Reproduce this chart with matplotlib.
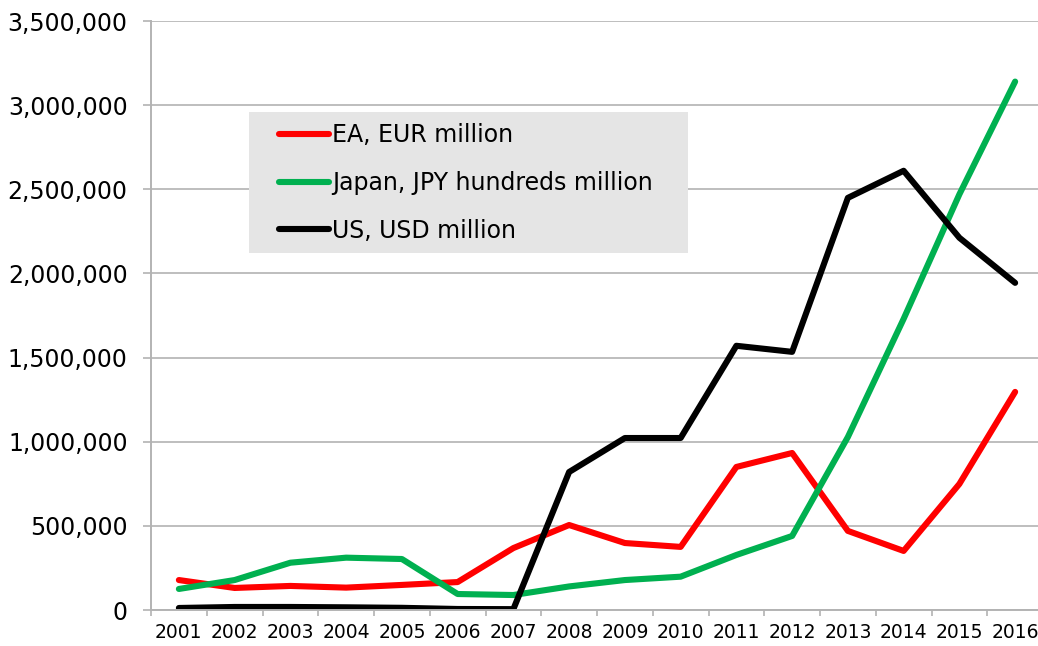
import matplotlib as mpl
mpl.use('agg')
import matplotlib.pyplot as plt
from matplotlib.patches import Rectangle
from matplotlib.ticker import FuncFormatter, FixedLocator

years = ['2001', '2002', '2003', '2004', '2005', '2006', '2007', '2008',
         '2009', '2010', '2011', '2012', '2013', '2014', '2015', '2016']

ea_eur = [178000, 131000, 143000, 133000, 149000, 166000, 368000, 505000,
          398000, 375000, 850000, 933000, 470000, 351000, 749000, 1296000]
japan_jpy = [125000, 178000, 281000, 311000, 303000, 95000, 89000, 140000,
             178000, 198000, 327000, 440000, 1028000, 1730000, 2470000, 3140000]
us_usd = [12000, 18000, 18000, 16000, 13000, 6000, 5000, 820000,
          1022000, 1022000, 1570000, 1534000, 2449000, 2610000, 2212000, 1944000]

grey = '#b3b3b3'
W, H = 1038, 646

fig = plt.figure(figsize=(W / 100, H / 100), dpi=100)
# axes extends a bit past the right edge, like the original
ax = fig.add_axes([151 / W, 1 - 610 / H, (1043 - 151) / W, (610 - 21) / H])

x = list(range(len(years)))
ax.plot(x, ea_eur, color='#ff0000', lw=4.4, label='EA, EUR million', solid_capstyle='round')
ax.plot(x, japan_jpy, color='#00b050', lw=4.4, label='Japan, JPY hundreds million', solid_capstyle='round')
ax.plot(x, us_usd, color='#000000', lw=4.4, label='US, USD million', solid_capstyle='round')

ax.set_xlim(-0.5, len(years) - 0.5)
ax.set_ylim(0, 3500000)
ax.set_yticks(range(0, 3500001, 500000))
ax.yaxis.set_major_formatter(FuncFormatter(lambda v, p: f'{int(v):,}'))
ax.set_xticks(x)
ax.set_xticklabels(years)
ax.xaxis.set_minor_locator(FixedLocator([i - 0.5 for i in range(len(years) + 1)]))

ax.tick_params(axis='x', which='major', length=0, labelsize=13.5, pad=9)
ax.tick_params(axis='x', which='minor', length=4.5, color=grey, width=1.2)
ax.tick_params(axis='y', length=5.8, color=grey, width=1.2, labelsize=17, pad=11)

ax.grid(axis='y', color=grey, lw=1.2)
ax.set_axisbelow(True)
for s in ['top', 'right']:
    ax.spines[s].set_visible(False)
for s in ['left', 'bottom']:
    ax.spines[s].set_color(grey)
    ax.spines[s].set_linewidth(1.4)

# grey legend box
box = Rectangle((249 / W, 1 - 253 / H), (688 - 249) / W, (253 - 112) / H,
                transform=fig.transFigure, facecolor='#e5e5e5',
                edgecolor='none', zorder=4, clip_on=False)
ax.add_patch(box)
leg = ax.legend(loc='center left', bbox_to_anchor=(279 / W, 1 - 183 / H),
                bbox_transform=fig.transFigure, fontsize=17, frameon=False,
                handlelength=2.12, handletextpad=0.13, labelspacing=1.0,
                borderpad=0, borderaxespad=0)
leg.set_zorder(5)

fig.savefig('out.png', dpi=100)
